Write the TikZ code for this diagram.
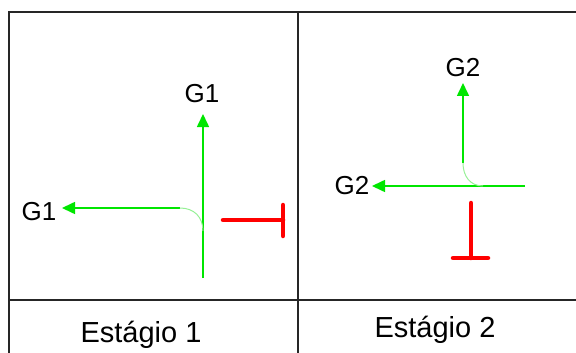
\documentclass[tikz,border=0pt]{standalone}
\usepackage{fontspec}
\setmainfont{Liberation Sans}
\usetikzlibrary{arrows.meta}
\definecolor{sgreen}{RGB}{0,230,0}
\definecolor{lgreen}{RGB}{150,240,150}
\definecolor{sred}{RGB}{255,0,0}
\tikzset{
  frame/.style={draw=black!85, line width=1.3pt},
  flow/.style={draw=sgreen, line width=1.6pt, -{Triangle[length=13pt,width=12pt]}},
  turn/.style={draw=lgreen, line width=1pt},
  stopbar/.style={draw=sred, line width=4.5pt, line cap=round},
  glabel/.style={font=\fontsize{26}{30}\selectfont, inner sep=0pt},
  slabel/.style={font=\fontsize{29}{34}\selectfont, inner sep=0pt, anchor=base}
}
\begin{document}
\begin{tikzpicture}[x=1pt,y=-1pt]
\useasboundingbox (0,0) rectangle (576,353);
% frame
\coordinate (tl) at (9,12); \coordinate (tr) at (576,12);
\coordinate (bl) at (9,353);
\coordinate (mt) at (298,12); \coordinate (mb) at (298,353);
\coordinate (dl) at (9,300); \coordinate (dr) at (576,300);
\draw[frame] (tr) -- (tl) -- (bl);
\draw[frame] (mt) -- (mb);
\draw[frame] (dl) -- (dr);
% stage 1
\coordinate (v1s) at (203,278); \coordinate (v1e) at (203,114);
\coordinate (h1s) at (180,208); \coordinate (h1e) at (62,208);
\coordinate (c1e) at (203,231);
\node[glabel] (g1top) at (202,94) {G1};
\node[glabel] (g1left) at (39,212) {G1};
\draw[flow] (v1s) -- (v1e);
\draw[flow] (h1s) -- (h1e);
\draw[turn] (h1s) .. controls (194,208) and (203,217) .. (c1e);
\coordinate (r1a) at (223,220); \coordinate (r1b) at (283,220);
\coordinate (r1c) at (283,205); \coordinate (r1d) at (283,236);
\draw[stopbar] (r1a) -- (r1b);
\draw[stopbar] (r1c) -- (r1d);
\node[slabel] (st1) at (141,342) {Estágio 1};
% stage 2
\coordinate (v2s) at (463,163); \coordinate (v2e) at (463,83);
\coordinate (h2s) at (525,186); \coordinate (h2e) at (372,186);
\coordinate (c2e) at (483,186);
\node[glabel] (g2top) at (463,68) {G2};
\node[glabel] (g2left) at (352,186) {G2};
\draw[flow] (v2s) -- (v2e);
\draw[flow] (h2s) -- (h2e);
\draw[turn] (v2s) .. controls (463,176) and (470,186) .. (c2e);
\coordinate (r2a) at (471,203); \coordinate (r2b) at (471,258);
\coordinate (r2c) at (453,258); \coordinate (r2d) at (488,258);
\draw[stopbar] (r2a) -- (r2b);
\draw[stopbar] (r2c) -- (r2d);
\node[slabel] (st2) at (435,337) {Estágio 2};
\end{tikzpicture}
\end{document}
